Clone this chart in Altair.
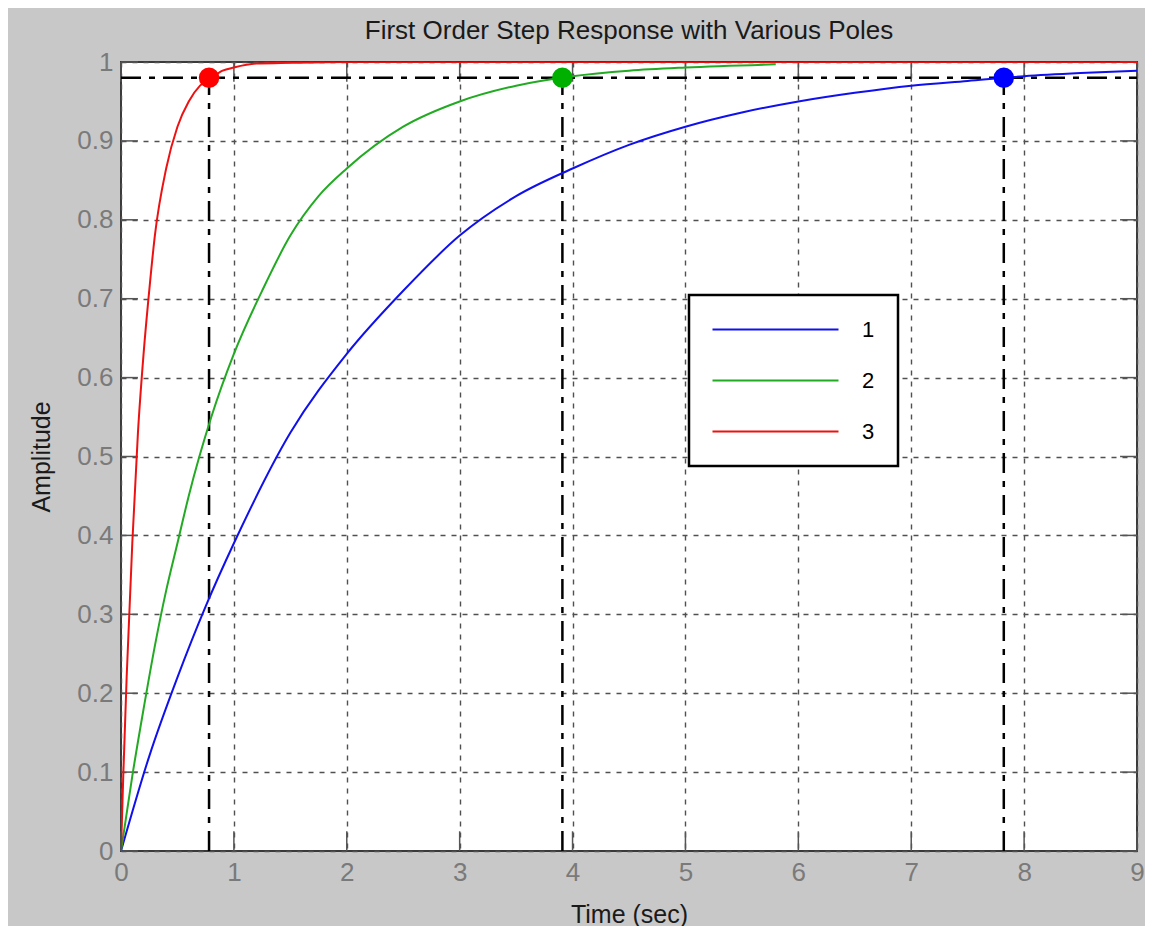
import altair as alt
import pandas as pd

FONT = "Liberation Sans, Arial, Helvetica, sans-serif"

# ---- data ----
# series 1 (blue)
t1 = [0, 0.25, 0.5, 0.75, 1, 1.5, 2, 2.5, 3, 3.5, 4, 4.5, 5, 5.5, 6, 6.5, 7, 7.5, 8, 8.5, 9]
a1 = [0, 0.12, 0.22, 0.31, 0.39, 0.53, 0.63, 0.71, 0.78, 0.83, 0.865, 0.895, 0.918,
      0.936, 0.95, 0.961, 0.970, 0.976, 0.982, 0.986, 0.989]
# series 2 (green)
t2 = [0, 0.1, 0.2, 0.3, 0.4, 0.5, 0.6, 0.8, 1.0, 1.25, 1.5, 1.75, 2, 2.5, 3, 3.5, 4, 4.5, 5, 5.8]
a2 = [0, 0.095, 0.18, 0.26, 0.33, 0.39, 0.45, 0.55, 0.63, 0.71, 0.78, 0.83, 0.865,
      0.918, 0.95, 0.97, 0.982, 0.989, 0.993, 0.997]
# series 3 (red)
t3 = [0, 0.02, 0.05, 0.1, 0.15, 0.2, 0.25, 0.3, 0.4, 0.5, 0.6, 0.7, 0.8, 0.9, 1.0, 1.2, 1.5, 2, 3, 9]
a3 = [0, 0.095, 0.22, 0.39, 0.53, 0.63, 0.71, 0.78, 0.865, 0.918, 0.95, 0.97, 0.98,
      0.989, 0.993, 0.998, 0.999, 1.0, 1.0, 1.0]

series_names = ["1", "2", "3"]
series_colors = ["#1010ee", "#22aa22", "#ee1111"]
marker_colors = ["#0000ff", "#00b000", "#ff0000"]

settle_level = 0.98
settle_times = [7.82, 3.91, 0.78]   # for series 1, 2, 3

x_ticks = [0, 1, 2, 3, 4, 5, 6, 7, 8, 9]
y_ticks = [0, 0.1, 0.2, 0.3, 0.4, 0.5, 0.6, 0.7, 0.8, 0.9, 1]
x_domain = [0, 9]
y_domain = [0, 1]

# ---- tables ----
curves = pd.concat([
    pd.DataFrame({"t": t1, "amp": a1, "series": series_names[0]}),
    pd.DataFrame({"t": t2, "amp": a2, "series": series_names[1]}),
    pd.DataFrame({"t": t3, "amp": a3, "series": series_names[2]}),
], ignore_index=True)

markers = pd.DataFrame({"t": settle_times, "amp": [settle_level] * 3,
                        "col": marker_colors})
vlines = pd.DataFrame({"t": settle_times, "y0": [0] * 3, "y1": [settle_level] * 3})
hline = pd.DataFrame({"t": [x_domain[0]], "t2": [x_domain[1]], "amp": [settle_level]})

# inward tick marks on all four sides (MATLAB style)
tx = 0.025 * (y_domain[1] - y_domain[0])
ty = 0.15
tick_rows = []
for v in x_ticks:
    tick_rows.append({"t": v, "t2": v, "amp": y_domain[0], "amp2": y_domain[0] + tx})
    tick_rows.append({"t": v, "t2": v, "amp": y_domain[1], "amp2": y_domain[1] - tx})
for v in y_ticks:
    tick_rows.append({"t": x_domain[0], "t2": x_domain[0] + ty, "amp": v, "amp2": v})
    tick_rows.append({"t": x_domain[1], "t2": x_domain[1] - ty, "amp": v, "amp2": v})
ticks = pd.DataFrame(tick_rows)

# ---- encodings ----
xs = alt.Scale(domain=x_domain, nice=False, zero=False)
ys = alt.Scale(domain=y_domain, nice=False, zero=False)
xaxis = alt.Axis(values=x_ticks, title="Time (sec)", format="~g", labelFlush=False)
yaxis = alt.Axis(values=y_ticks, title="Amplitude", format="~g", labelFlush=False)


def X(field):
    return alt.X(field, type="quantitative", scale=xs, axis=xaxis, title="Time (sec)")


def Y(field):
    return alt.Y(field, type="quantitative", scale=ys, axis=yaxis, title="Amplitude")


tick_layer = alt.Chart(ticks).mark_rule(color="#555555", strokeWidth=1.5).encode(
    x=X("t"), x2="t2", y=Y("amp"), y2="amp2")

hline_layer = alt.Chart(hline).mark_rule(
    color="black", strokeWidth=2.5, strokeDash=[20, 8, 6, 8]).encode(
    x=X("t"), x2="t2", y=Y("amp"))

vline_layer = alt.Chart(vlines).mark_rule(
    color="black", strokeWidth=2.5, strokeDash=[20, 8, 6, 8]).encode(
    x=X("t"), y=Y("y0"), y2="y1")

curve_layer = alt.Chart(curves).mark_line(
    strokeWidth=2, interpolate="monotone", clip=True).encode(
    x=X("t"), y=Y("amp"),
    color=alt.Color("series:N",
                    scale=alt.Scale(domain=series_names, range=series_colors),
                    legend=alt.Legend(title=None,
                                      labelExpr="datum.label + '\u00a0\u00a0\u00a0'")),
    detail="series:N")

marker_layer = alt.Chart(markers).mark_point(
    filled=True, size=420, opacity=1, shape="circle").encode(
    x=X("t"), y=Y("amp"), color=alt.Color("col:N", scale=None))

chart = alt.layer(
    tick_layer, hline_layer, vline_layer, curve_layer, marker_layer
).properties(
    width=1016, height=789,
    title=alt.TitleParams("First Order Step Response with Various Poles",
                          fontSize=26, font=FONT, fontWeight="normal",
                          color="#1a1a1a", anchor="middle", offset=5),
    autosize=alt.AutoSizeParams(type="none"),
    padding={"left": 113, "top": 54, "right": 8, "bottom": 75},
    background="#c8c8c8",
).configure_view(
    stroke="#3a3a3a", strokeWidth=2, fill="white"
).configure_axis(
    grid=True, gridDash=[5, 6], gridColor="#505050", gridWidth=1.4, gridOpacity=1,
    ticks=False, domain=False,
    labelFont=FONT, labelFontSize=26, labelColor="#7a7a7a",
    titleFont=FONT, titleFontSize=25, titleFontWeight="normal", titleColor="#1a1a1a",
).configure_axisX(
    labelPadding=8, titlePadding=17,
).configure_axisY(
    labelPadding=8, titlePadding=22,
).configure_legend(
    orient="none", legendX=568, legendY=233,
    fillColor="white", strokeColor="black", strokeWidth=2.5,
    padding=23, rowPadding=28,
    symbolType="M-6,0H6", symbolSize=441, symbolStrokeWidth=2, symbolOffset=52,
    labelFont="Liberation Sans Narrow, Liberation Sans, Arial", labelFontSize=22,
    labelColor="black", labelOffset=75,
)

chart.save("out.html", embed_options={"renderer": "svg", "actions": False})
